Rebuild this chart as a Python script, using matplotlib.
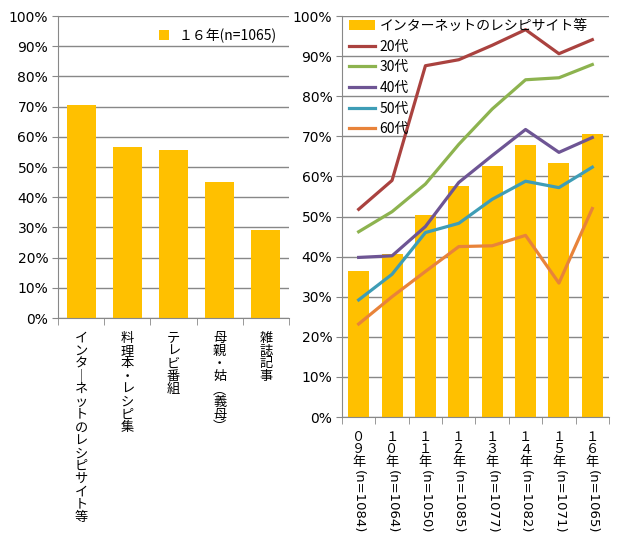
import matplotlib
matplotlib.use('Agg')
import matplotlib.pyplot as plt
import numpy as np

plt.rcParams['font.family'] = ['Noto Sans CJK JP', 'DejaVu Sans']

# left chart: 16年 sources
src_labels = ['インターネットのレシピサイト等', '料理本・レシピ集', 'テレビ番組', '母親・姑（義母）', '雑誌記事']
src_values = [70.6, 56.7, 55.7, 45.1, 29.2]
left_legend = '１６年(n=1065)'

# right chart: trend by year
years = ['０９年', '１０年', '１１年', '１２年', '１３年', '１４年', '１５年', '１６年']
ns = ['(n=1084)', '(n=1064)', '(n=1050)', '(n=1085)', '(n=1077)', '(n=1082)', '(n=1071)', '(n=1065)']
net_all = [36.4, 40.6, 50.3, 57.5, 62.7, 67.9, 63.4, 70.6]
age20 = [51.8, 59.0, 87.6, 89.1, 92.7, 96.6, 90.6, 94.1]
age30 = [46.2, 51.2, 58.1, 68.0, 76.8, 84.1, 84.6, 87.9]
age40 = [39.8, 40.2, 47.5, 58.5, 65.2, 71.7, 66.0, 69.7]
age50 = [29.2, 35.6, 46.0, 48.3, 54.3, 58.8, 57.2, 62.3]
age60 = [23.2, 30.0, 36.3, 42.5, 42.7, 45.3, 33.4, 52.0]
line_names = ['20代', '30代', '40代', '50代', '60代']
line_colors = ['#AA423F', '#8DB34F', '#6E5594', '#3E9DB6', '#E8833A']

BAR = '#FFC000'
GRID = '#888888'


def vert(s):
    rep = {'ー': '｜', '（': '︵', '）': '︶'}
    return '\n'.join(rep.get(c, c) for c in s)


def style(ax):
    ax.set_ylim(0, 1)
    ax.set_yticks(np.arange(0, 1.01, 0.1))
    ax.set_yticklabels(['%d%%' % (v * 10) for v in range(11)], family='DejaVu Sans', fontsize=10)
    ax.yaxis.grid(True, color=GRID, linewidth=1)
    ax.set_axisbelow(True)
    for s in ['top', 'right']:
        ax.spines[s].set_visible(False)
    for s in ['left', 'bottom']:
        ax.spines[s].set_color(GRID)
    ax.tick_params(axis='y', length=4, color=GRID, pad=3)
    ax.tick_params(axis='x', which='major', length=0)
    ax.tick_params(axis='x', which='minor', length=5, color=GRID)


fig = plt.figure(figsize=(6.22, 5.39), dpi=100)

# ---- left
ax1 = fig.add_axes([0.0932, 0.41, 0.3714, 0.5603])
x1 = np.arange(len(src_labels))
ax1.bar(x1, np.array(src_values) / 100, width=0.63, color=BAR, label=left_legend, zorder=2)
ax1.set_xlim(-0.5, len(src_labels) - 0.5)
style(ax1)
ax1.set_xticks(x1)
ax1.set_xticklabels([vert(s) for s in src_labels], fontsize=9.5, va='top', linespacing=0.98)
ax1.set_xticks(np.arange(-0.5, len(src_labels)), minor=True)
ax1.tick_params(axis='x', pad=10)
ax1.legend(loc='upper right', frameon=False, fontsize=10, handlelength=0.7, handleheight=0.7,
           handletextpad=0.7, bbox_to_anchor=(1.0, 1.0))

# ---- right
ax2 = fig.add_axes([0.5498, 0.2263, 0.4293, 0.744])
x2 = np.arange(len(years))
bars = ax2.bar(x2, np.array(net_all) / 100, width=0.63, color=BAR, label='インターネットのレシピサイト等', zorder=2)
handles = [bars]
for vals, name, col in zip([age20, age30, age40, age50, age60], line_names, line_colors):
    ln, = ax2.plot(x2, np.array(vals) / 100, color=col, linewidth=2.3, label=name, zorder=3)
    handles.append(ln)
ax2.set_xlim(-0.5, len(years) - 0.5)
style(ax2)
ax2.set_xticks(x2)
ax2.set_xticklabels([vert(s) for s in years], fontsize=9.5, va='top', linespacing=0.95)
ax2.set_xticks(np.arange(-0.5, len(years)), minor=True)
ax2.tick_params(axis='x', pad=10)
for i, n in enumerate(ns):
    ax2.annotate(n, xy=(i, 0), xycoords=('data', 'axes fraction'), xytext=(0, -38),
                 textcoords='offset points', rotation=270, ha='center', va='top',
                 fontsize=9.5, family='DejaVu Sans')
ax2.legend(handles=handles, loc='upper left', frameon=False, fontsize=10, handlelength=1.9,
           handletextpad=0.3, labelspacing=0.48, borderaxespad=0.1,
           bbox_to_anchor=(0.0, 1.01))

fig.savefig('out.png', dpi=100)
